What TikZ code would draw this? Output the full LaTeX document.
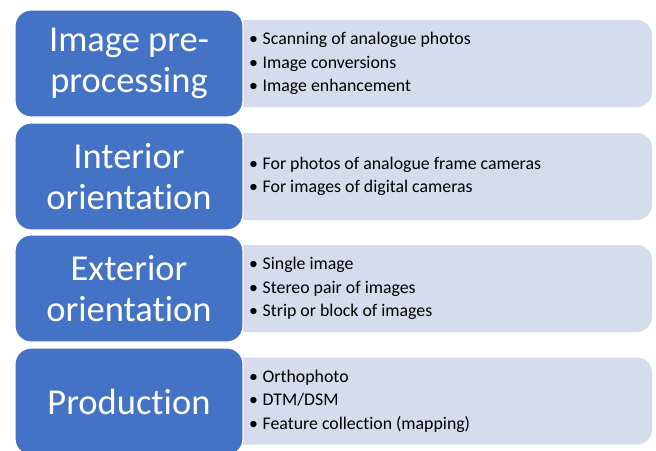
\documentclass[tikz,border=0pt]{standalone}
\usepackage{fontspec}
\setmainfont{Carlito}[RawFeature={-liga;-dlig}]
\definecolor{blueA}{RGB}{68,114,196}
\definecolor{lav}{RGB}{214,219,237}
\tikzset{
  stage/.style={fill=blueA, draw=white, line width=1.2pt, rounded corners=16pt,
    minimum width=228pt, minimum height=107pt, text=white, align=center,
    font=\fontsize{36.5}{40.5}\selectfont, inner sep=0pt},
  detail/.style={fill=lav, rounded corners=15pt, minimum width=452pt,
    minimum height=87pt, inner sep=0pt},
  items/.style={align=left, font=\fontsize{17.8}{23.5}\selectfont, anchor=west,
    inner sep=0pt, text=black}
}
\newcommand{\bul}[1]{\makebox[13.5pt][l]{•}#1}
\begin{document}
\begin{tikzpicture}[x=1pt,y=1pt]
\useasboundingbox (0,0) rectangle (656,-450);
\clip (0,0) rectangle (656,-450);
% detail boxes
\node[detail] (d1) at (426,-63.5) {};
\node[detail] (d2) at (426,-176.5) {};
\node[detail] (d3) at (426,-288.5) {};
\node[detail] (d4) at (426,-401) {};
% stage boxes
\node[stage] (s1) at (129,-63.5) {Image pre-\\processing};
\node[stage] (s2) at (129,-176.5) {Interior\\orientation};
\node[stage] (s3) at (129,-288.5) {Exterior\\orientation};
\node[stage] (s4) at (129,-401.5) {Production};
% item texts
\node[items] (t1) at (249,-63.5) {\bul{Scanning of analogue photos}\\\bul{Image conversions}\\\bul{Image enhancement}};
\node[items] (t2) at (249,-176.5) {\bul{For photos of analogue frame cameras}\\\bul{For images of digital cameras}};
\node[items] (t3) at (249,-288.5) {\bul{Single image}\\\bul{Stereo pair of images}\\\bul{Strip or block of images}};
\node[items] (t4) at (249,-401) {\bul{Orthophoto}\\\bul{DTM/DSM}\\\bul{Feature collection (mapping)}};
\end{tikzpicture}
\end{document}
